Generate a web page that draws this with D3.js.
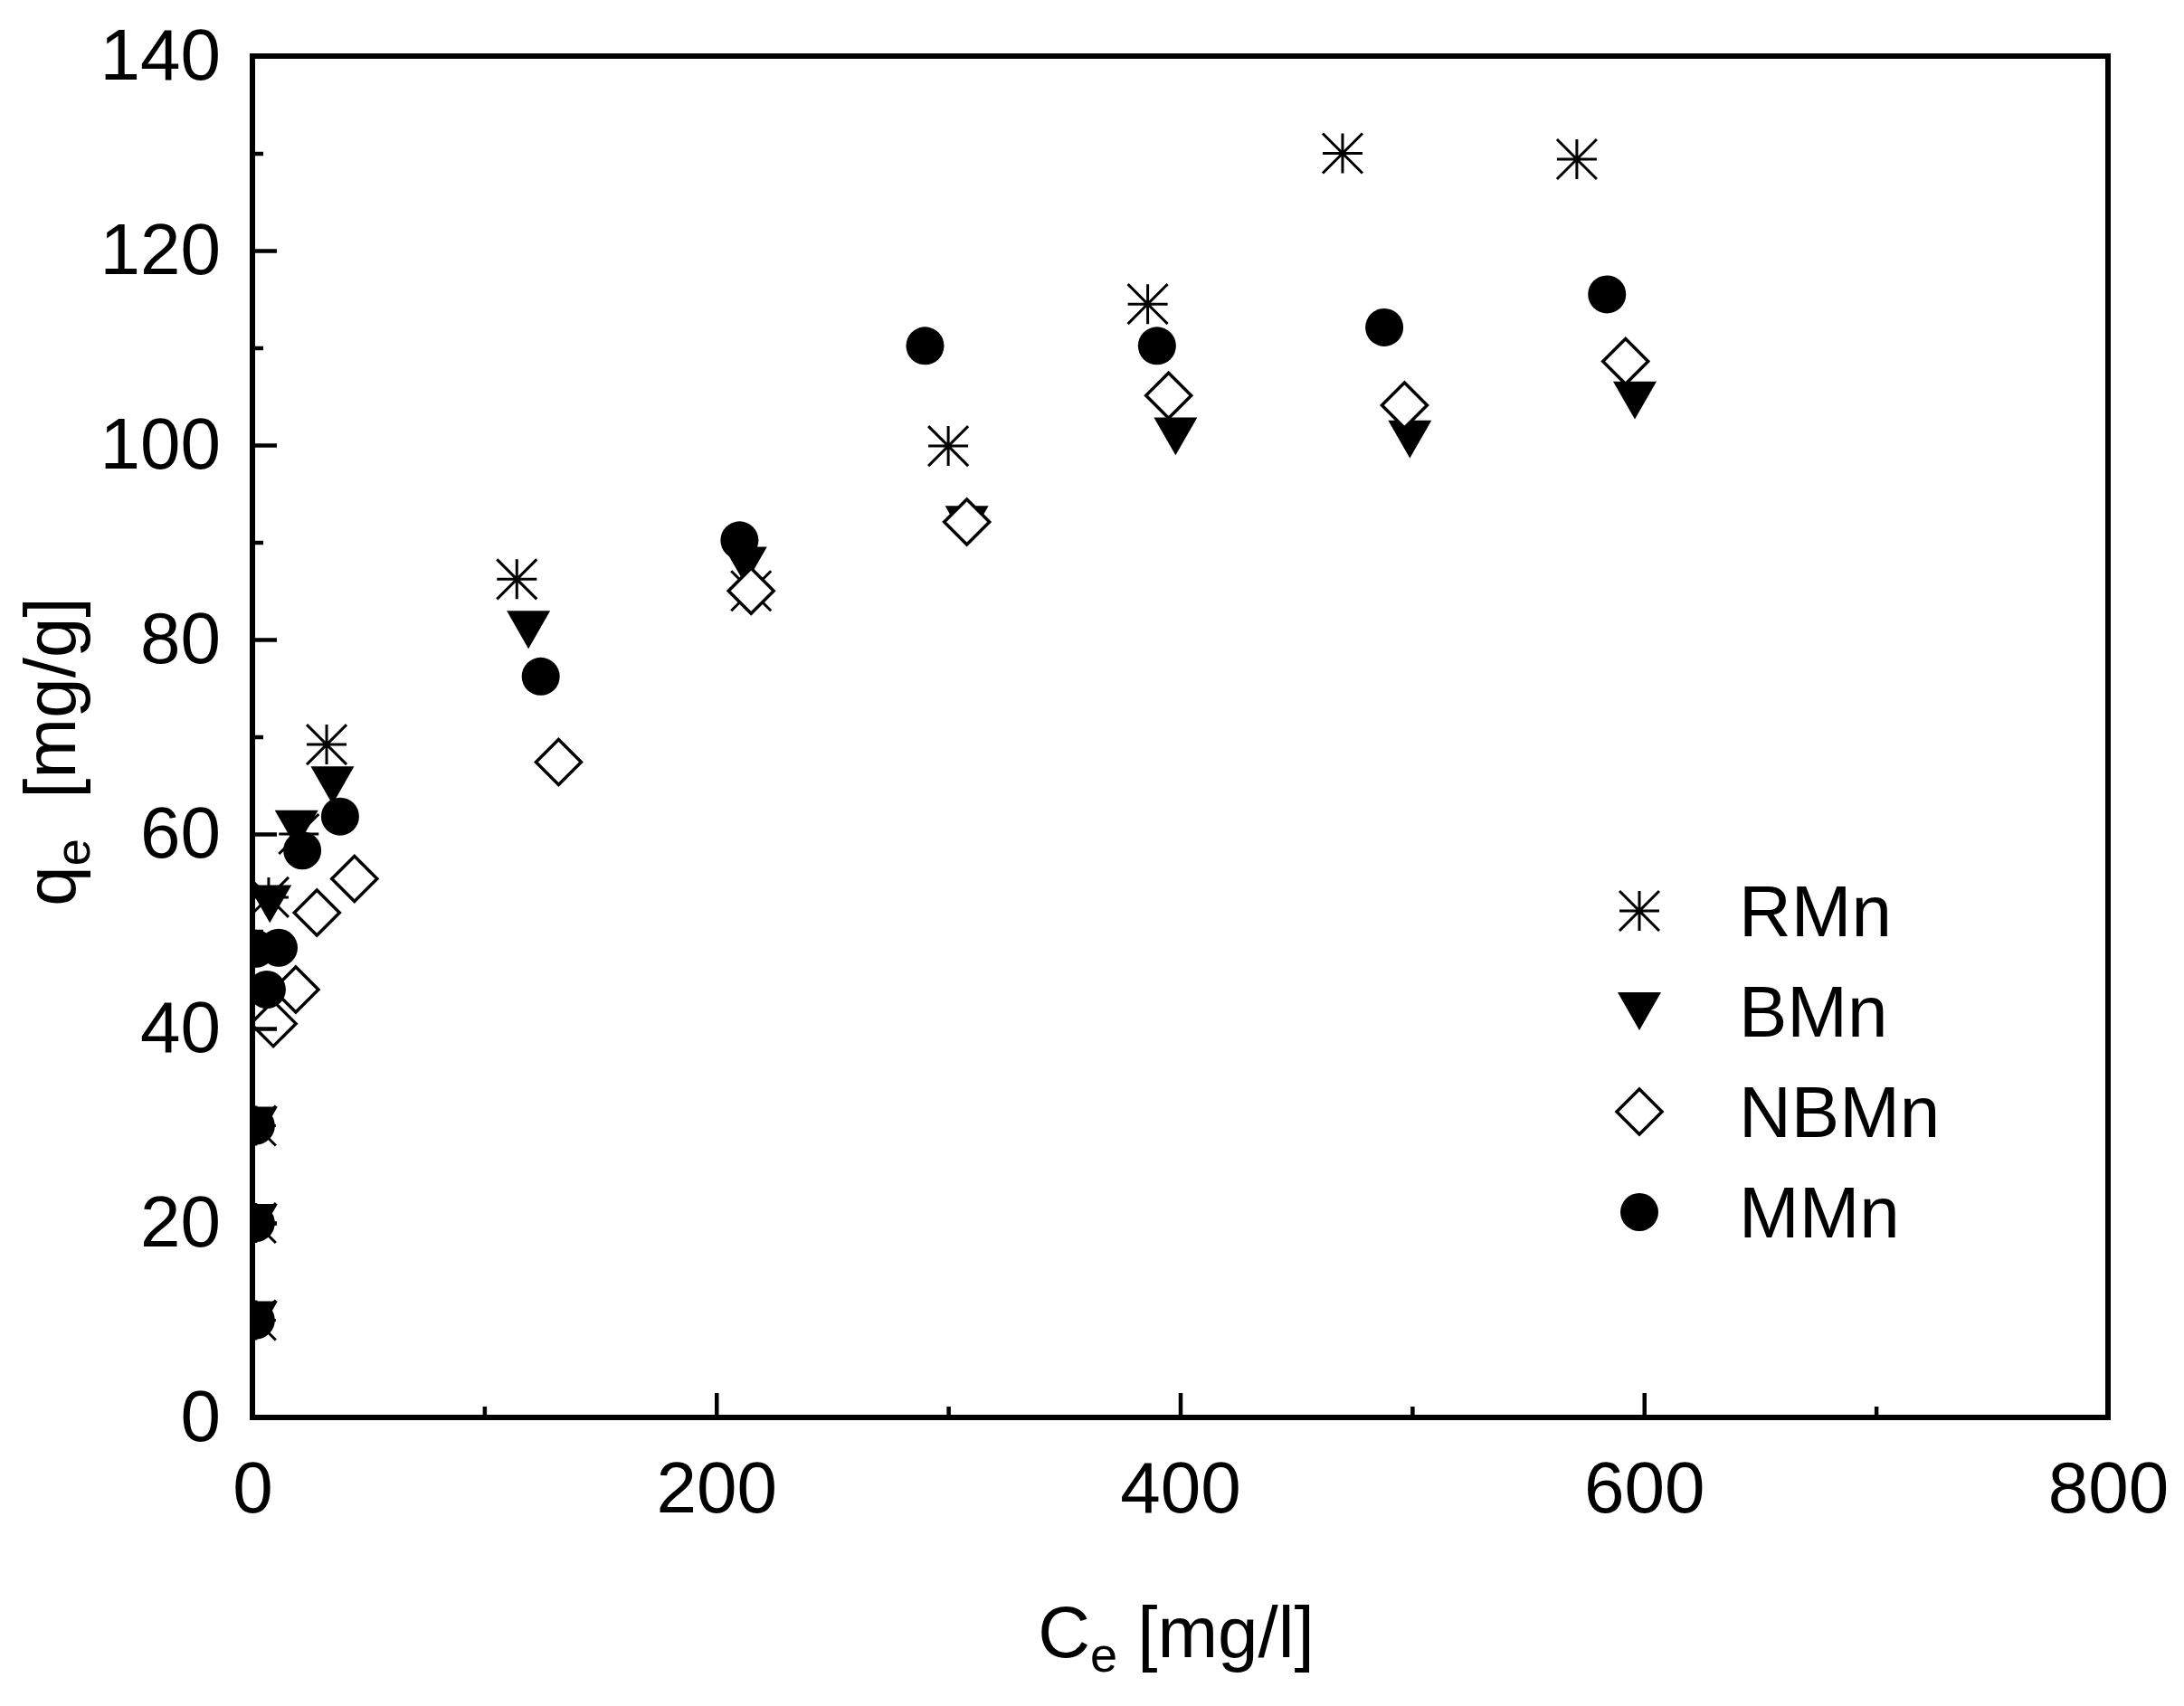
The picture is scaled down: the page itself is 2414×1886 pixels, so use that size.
<!DOCTYPE html>
<html>
<head>
<meta charset="utf-8">
<script src="https://cdn.jsdelivr.net/npm/d3@7"></script>
<style>
  body { margin: 0; background: #fff; }
  svg { display: block; font-family: "Liberation Sans", Arial, sans-serif; }
</style>
</head>
<body>
<div id="chart"></div>
<script>
// Data (Ce in mg/l, qe in mg/g)
const seriesNames = ["RMn", "BMn", "NBMn", "MMn"];

const rmnCe = [1.5, 1.5, 1.5, 7, 20, 32, 114, 215, 300, 386, 470, 571];
const rmnQe = [10, 20, 30, 53.5, 60, 69.2, 86.2, 85, 99.9, 114.5, 130, 129.4];

const bmnCe = [1.5, 1.5, 1.5, 7.5, 19, 34.5, 119, 212.5, 308, 398, 499, 596];
const bmnQe = [10, 20, 30, 52.8, 60.5, 65, 81, 87.6, 91.8, 100.9, 100.6, 104.6];

const nbmnCe = [9, 18.7, 27.8, 44, 132, 215, 308, 395, 496.7, 592];
const nbmnQe = [40.5, 44, 51.9, 55.4, 67.4, 85, 92.1, 105.1, 104.1, 108.6];

const mmnCe = [1.5, 1.5, 1.5, 1.5, 6.2, 11.3, 21.5, 37.8, 124.3, 210, 290, 390, 488, 584];
const mmnQe = [10, 20, 30, 48.2, 44, 48.3, 58.3, 61.8, 76.2, 90.2, 110.2, 110.2, 112.1, 115.5];

const xTicks = [0, 200, 400, 600, 800];
const xMinorTicks = [100, 300, 500, 700];
const yTicks = [0, 20, 40, 60, 80, 100, 120, 140];
const yMinorTicks = [10, 30, 50, 70, 90, 110, 130];

/* Set the dimensions and margins of the graph */
const width = 2414, height = 1886;
const margins = {top: 62, right: 84, bottom: 319, left: 279};

const svg = d3.select("#chart")
    .append("svg")
    .attr("width", width)
    .attr("height", height)
    .attr("viewBox", [0, 0, width, height]);

const xScale = d3.scaleLinear()
    .domain([0, 800])
    .range([margins.left, width - margins.right]);
const yScale = d3.scaleLinear()
    .domain([0, 140])
    .range([height - margins.bottom, margins.top]);

// custom marker shapes, "size" is the half width in px
const asterisk = {
    draw(ctx, r) {
        ctx.moveTo(0, -r); ctx.lineTo(0, r);
        ctx.moveTo(-r, 0); ctx.lineTo(r, 0);
        ctx.moveTo(-r, -r); ctx.lineTo(r, r);
        ctx.moveTo(-r, r); ctx.lineTo(r, -r);
    }
};
const triangleDown = {
    draw(ctx, r) {
        const h = r * 0.87;
        ctx.moveTo(-r, -h); ctx.lineTo(r, -h); ctx.lineTo(0, h); ctx.closePath();
    }
};
const diamond = {
    draw(ctx, r) {
        ctx.moveTo(0, -r); ctx.lineTo(r, 0); ctx.lineTo(0, r); ctx.lineTo(-r, 0); ctx.closePath();
    }
};
const circle = {
    draw(ctx, r) {
        ctx.moveTo(r, 0); ctx.arc(0, 0, r, 0, 2 * Math.PI);
    }
};

const styles = {
    RMn:  {type: asterisk, size: 22, fill: "none", stroke: "#000", sw: 3},
    BMn:  {type: triangleDown, size: 24, fill: "#000", stroke: "none", sw: 0},
    NBMn: {type: diamond, size: 25, fill: "#fff", stroke: "#000", sw: 3.5},
    MMn:  {type: circle, size: 21, fill: "#000", stroke: "none", sw: 0}
};

const seriesData = {
    RMn: rmnCe.map((c, i) => ({ce: c, qe: rmnQe[i]})),
    BMn: bmnCe.map((c, i) => ({ce: c, qe: bmnQe[i]})),
    NBMn: nbmnCe.map((c, i) => ({ce: c, qe: nbmnQe[i]})),
    MMn: mmnCe.map((c, i) => ({ce: c, qe: mmnQe[i]}))
};

// clip markers to the plot frame
svg.append("clipPath")
    .attr("id", "plotClip")
  .append("rect")
    .attr("x", margins.left)
    .attr("y", margins.top)
    .attr("width", width - margins.left - margins.right)
    .attr("height", height - margins.top - margins.bottom);

const plot = svg.append("g").attr("clip-path", "url(#plotClip)");

seriesNames.forEach(name => {
    const s = styles[name];
    const sym = d3.symbol().type(s.type).size(s.size);
    plot.append("g")
        .selectAll("path")
        .data(seriesData[name])
        .join("path")
        .attr("transform", d => `translate(${xScale(d.ce)},${yScale(d.qe)})`)
        .attr("d", sym)
        .attr("fill", s.fill)
        .attr("stroke", s.stroke)
        .attr("stroke-width", s.sw);
});

/* Axes: ticks pointing inward */
const xAxis = d3.axisBottom(xScale)
    .tickValues(xTicks)
    .tickSize(-27)
    .tickPadding(48)
    .tickFormat(d3.format("d"));
const xMinor = d3.axisBottom(xScale)
    .tickValues(xMinorTicks)
    .tickSize(-12)
    .tickFormat("");
const yAxis = d3.axisLeft(yScale)
    .tickValues(yTicks)
    .tickSize(-27)
    .tickPadding(35)
    .tickFormat(d3.format("d"));
const yMinor = d3.axisLeft(yScale)
    .tickValues(yMinorTicks)
    .tickSize(-12)
    .tickFormat("");

function styleAxis(g) {
    g.select(".domain").remove();
    g.selectAll(".tick line").attr("stroke", "#000").attr("stroke-width", 4.5);
    g.selectAll(".tick text")
        .attr("fill", "#000")
        .style("font-size", "80px")
        .style("font-family", "'Liberation Sans', Arial, sans-serif");
}

svg.append("g")
    .attr("transform", `translate(0,${height - margins.bottom})`)
    .call(xAxis).call(styleAxis);
svg.append("g")
    .attr("transform", `translate(0,${height - margins.bottom})`)
    .call(xMinor).call(styleAxis);
svg.append("g")
    .attr("transform", `translate(${margins.left},0)`)
    .call(yAxis).call(styleAxis);
svg.append("g")
    .attr("transform", `translate(${margins.left},0)`)
    .call(yMinor).call(styleAxis);

// the frame
svg.append("rect")
    .attr("x", margins.left)
    .attr("y", margins.top)
    .attr("width", width - margins.left - margins.right)
    .attr("height", height - margins.top - margins.bottom)
    .attr("fill", "none")
    .attr("stroke", "#000")
    .attr("stroke-width", 6);

// axis titles
const xTitle = svg.append("text")
    .attr("x", 1300)
    .attr("y", 1832)
    .attr("text-anchor", "middle")
    .style("font-size", "80px");
xTitle.append("tspan").text("C");
xTitle.append("tspan").attr("dy", 16).style("font-size", "54px").text("e");
xTitle.append("tspan").attr("dy", -16).text(" [mg/l]");

const yTitle = svg.append("text")
    .attr("transform", "translate(83,831) rotate(-90)")
    .attr("text-anchor", "middle")
    .style("font-size", "80px");
yTitle.append("tspan").text("q");
yTitle.append("tspan").attr("dy", 16).style("font-size", "54px").text("e");
yTitle.append("tspan").attr("dy", -16).style("white-space", "pre").text("  [mg/g]");

// legend
const legend = svg.append("g").attr("transform", "translate(1812,1007)");
seriesNames.forEach((name, i) => {
    const s = styles[name];
    const item = legend.append("g").attr("transform", `translate(0,${i * 111})`);
    item.append("path")
        .attr("d", d3.symbol().type(s.type).size(s.size)())
        .attr("fill", s.fill)
        .attr("stroke", s.stroke)
        .attr("stroke-width", s.sw);
    item.append("text")
        .attr("x", 110)
        .attr("y", 28)
        .style("font-size", "80px")
        .text(name);
});
</script>
</body>
</html>
